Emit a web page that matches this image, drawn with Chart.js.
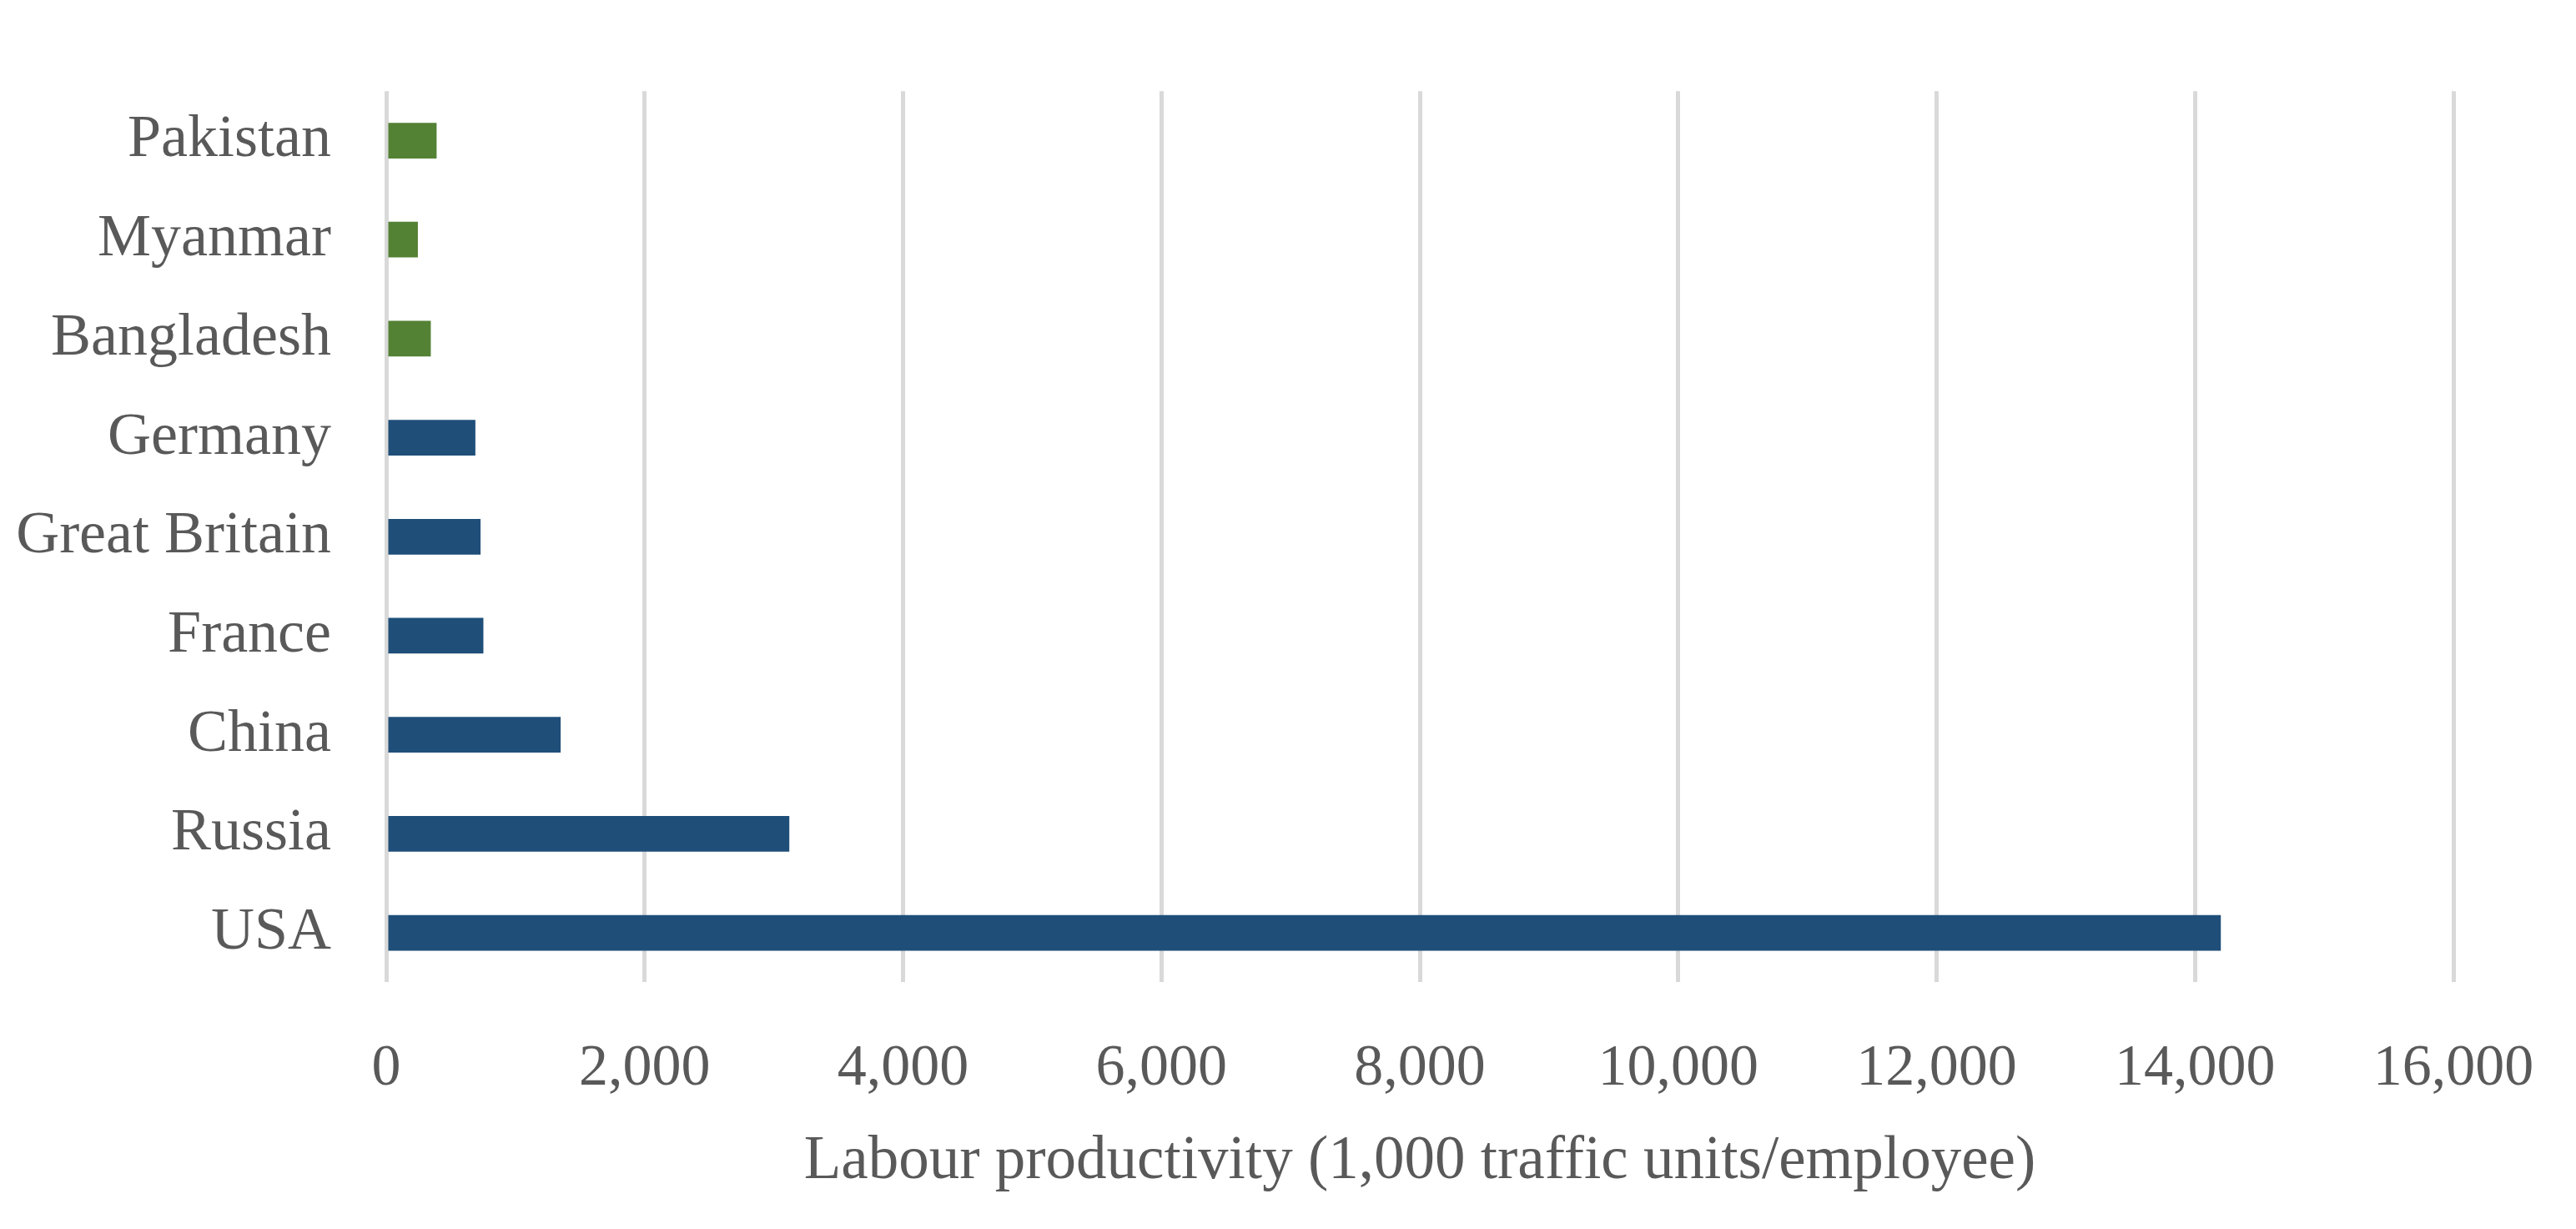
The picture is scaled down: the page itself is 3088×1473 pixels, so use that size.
<!DOCTYPE html>
<html>
<head>
<meta charset="utf-8">
<script src="https://cdn.jsdelivr.net/npm/chart.js@4.4.0/dist/chart.umd.min.js"></script>
<style>
  html, body { margin: 0; padding: 0; background: #fff; }
  canvas { display: block; }
</style>
</head>
<body>
<canvas id="chart" width="3088" height="1473"></canvas>
<script>
// Data
const countries = ['Pakistan', 'Myanmar', 'Bangladesh', 'Germany', 'Great Britain', 'France', 'China', 'Russia', 'USA'];
const productivity = [390, 245, 345, 690, 730, 752, 1350, 3120, 14200];
const greenCountries = ['Pakistan', 'Myanmar', 'Bangladesh'];
const xTicks = [0, 2000, 4000, 6000, 8000, 10000, 12000, 14000, 16000];
const xTitle = 'Labour productivity (1,000 traffic units/employee)';

const BLUE = '#1F4E79';
const GREEN = '#548235';
const TEXT = '#595959';
const FONT = "'Liberation Serif', 'DejaVu Serif', serif";

const barColors = countries.map(c => greenCountries.includes(c) ? GREEN : BLUE);

const ctx = document.getElementById('chart').getContext('2d');
new Chart(ctx, {
  type: 'bar',
  data: {
    labels: countries,
    datasets: [{
      data: productivity,
      backgroundColor: barColors,
      barPercentage: 0.36,
      categoryPercentage: 1
    }]
  },
  options: {
    indexAxis: 'y',
    responsive: false,
    animation: false,
    devicePixelRatio: 1,
    layout: { padding: { top: 60, left: 0, right: 0, bottom: 36 } },
    plugins: { legend: { display: false }, tooltip: { enabled: false } },
    scales: {
      x: {
        min: xTicks[0],
        max: xTicks[xTicks.length - 1],
        afterBuildTicks: axis => { axis.ticks = xTicks.map(v => ({ value: v })); },
        afterFit: axis => { axis.paddingRight = 147; },
        grid: { color: '#D9D9D9', lineWidth: 5, drawTicks: false },
        border: { display: false },
        ticks: {
          color: TEXT,
          font: { family: FONT, size: 70 },
          padding: 62,
          callback: v => v.toLocaleString('en-US')
        },
        title: {
          display: true,
          text: xTitle,
          color: TEXT,
          font: { family: FONT, size: 73 },
          padding: { top: -36, bottom: 0 }
        }
      },
      y: {
        afterFit: axis => { axis.width = 463; },
        grid: { display: false, drawTicks: false },
        border: { display: false },
        ticks: {
          color: TEXT,
          font: { family: FONT, size: 72 },
          padding: 66
        }
      }
    }
  }
});
</script>
</body>
</html>
